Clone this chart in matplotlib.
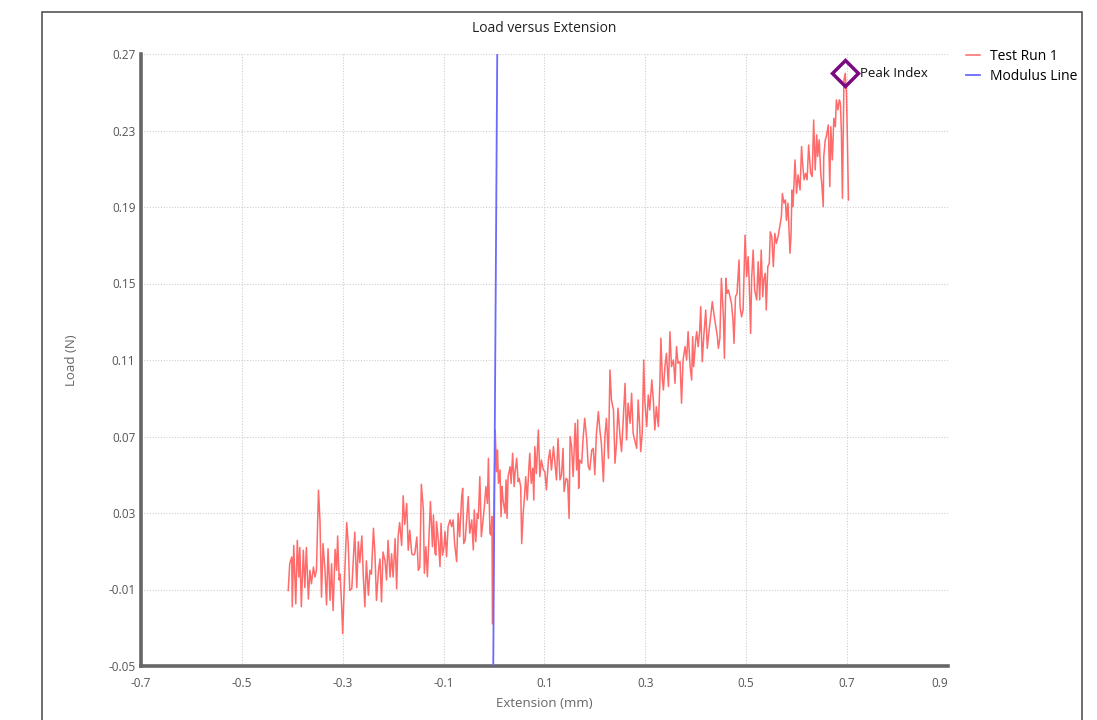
import numpy as np
import matplotlib.pyplot as plt
from matplotlib.patches import Rectangle

plt.rcParams['font.family'] = ['Open Sans', 'DejaVu Sans']

# Test Run 1
extension = [
    -0.408, -0.405, -0.401, -0.400, -0.397, -0.393, -0.390, -0.387, -0.385, -0.382,
    -0.378, -0.375, -0.372, -0.368, -0.365, -0.362, -0.358, -0.355, -0.352, -0.348,
    -0.345, -0.342, -0.339, -0.335, -0.332, -0.329, -0.325, -0.322, -0.319, -0.315,
    -0.312, -0.310, -0.307, -0.305, -0.302, -0.300, -0.297, -0.292, -0.289, -0.286,
    -0.282, -0.279, -0.276, -0.272, -0.269, -0.266, -0.262, -0.259, -0.256, -0.253,
    -0.249, -0.246, -0.243, -0.239, -0.236, -0.233, -0.229, -0.226, -0.223, -0.220,
    -0.216, -0.213, -0.210, -0.206, -0.203, -0.200, -0.196, -0.193, -0.190, -0.187,
    -0.183, -0.180, -0.177, -0.173, -0.170, -0.167, -0.163, -0.160, -0.157, -0.153,
    -0.150, -0.147, -0.144,
    -0.140, -0.138, -0.135, -0.132, -0.129, -0.126, -0.122, -0.120, -0.117, -0.115,
    -0.114, -0.110, -0.107, -0.105, -0.102, -0.099, -0.097, -0.094, -0.091, -0.087,
    -0.084, -0.081, -0.078, -0.074, -0.071, -0.068, -0.064, -0.062, -0.060, -0.057,
    -0.054, -0.051, -0.048, -0.044, -0.041, -0.039, -0.036, -0.033, -0.031, -0.028,
    -0.025, -0.021, -0.019, -0.016, -0.013, -0.011, -0.008, -0.006, -0.004, -0.003,
    0.000, 0.0025, 0.005, 0.007, 0.009, 0.012, 0.014, 0.016, 0.018, 0.022,
    0.024, 0.026, 0.028, 0.032, 0.034, 0.037, 0.040, 0.042, 0.045, 0.048,
    0.050, 0.053, 0.055, 0.058, 0.061, 0.063, 0.066, 0.069, 0.071, 0.074,
    0.077, 0.079, 0.081, 0.084, 0.088, 0.091, 0.094, 0.098, 0.101, 0.104,
    0.108, 0.111, 0.114, 0.118,
    0.124, 0.127, 0.131, 0.134, 0.137, 0.139, 0.143, 0.146, 0.149, 0.151,
    0.154, 0.157, 0.161, 0.164, 0.166, 0.168, 0.170, 0.174, 0.177, 0.180,
    0.184, 0.187, 0.190, 0.194, 0.197, 0.200, 0.203, 0.207, 0.210, 0.213,
    0.217, 0.220, 0.223, 0.227, 0.230, 0.233, 0.237, 0.240, 0.243, 0.246,
    0.250, 0.253, 0.256, 0.260, 0.263, 0.266, 0.270, 0.273, 0.276, 0.279,
    0.283, 0.286, 0.289, 0.291, 0.294, 0.297, 0.299, 0.303, 0.306, 0.309,
    0.313, 0.316, 0.319, 0.322, 0.326, 0.329, 0.331, 0.334, 0.336, 0.339,
    0.342, 0.346, 0.349, 0.352, 0.356, 0.359, 0.362, 0.365, 0.369, 0.372,
    0.375, 0.379, 0.382, 0.385, 0.389,
    0.392, 0.394, 0.396, 0.400, 0.402, 0.405, 0.408, 0.410, 0.413, 0.416,
    0.420, 0.423, 0.426, 0.429, 0.433, 0.436, 0.439, 0.443, 0.445, 0.448,
    0.451, 0.455, 0.457, 0.460, 0.462, 0.465, 0.468, 0.471, 0.474, 0.476,
    0.479, 0.482, 0.486, 0.488, 0.491, 0.494, 0.498, 0.501, 0.504, 0.506,
    0.509, 0.511, 0.514, 0.517, 0.521, 0.524, 0.527, 0.530, 0.533, 0.535,
    0.538, 0.540, 0.543, 0.546, 0.548, 0.551, 0.554, 0.557, 0.560, 0.564,
    0.570, 0.572, 0.575, 0.578, 0.580, 0.583, 0.587, 0.589, 0.591, 0.593,
    0.597, 0.600, 0.603, 0.607, 0.610, 0.612, 0.615, 0.618, 0.621, 0.624,
    0.628, 0.631, 0.634, 0.637, 0.640, 0.642, 0.645, 0.648, 0.650, 0.653,
    0.654, 0.657, 0.659, 0.663, 0.666, 0.668, 0.671, 0.674, 0.677, 0.679,
    0.682, 0.685, 0.687, 0.689, 0.691, 0.694, 0.6965, 0.699, 0.701, 0.703,
]
load = [
    -0.0105, 0.0035, 0.0070, -0.0190, 0.0130, -0.0175, 0.0157, -0.0035, 0.0120, -0.0190,
    0.0105, -0.0090, 0.0120, -0.0150, 0.0000, -0.0070, 0.0017, -0.0035, 0.0000, 0.0419,
    0.0260, -0.0140, 0.0140, 0.0000, -0.0180, 0.0113, -0.0157, 0.0035, -0.0210, 0.0110,
    0.0000, 0.0180, -0.0050, -0.0020, -0.0190, -0.0330, -0.0090, 0.0250, 0.0140, -0.0105,
    -0.0097, 0.0050, 0.0200, -0.0090, 0.0150, 0.0040, 0.0180, -0.0035, -0.0190, 0.0050,
    -0.0130, 0.0000, -0.0020, 0.0220, 0.0087, -0.0157, 0.0000, 0.0060, -0.0165, 0.0096,
    0.0050, -0.0050, 0.0157, -0.0035, 0.0087, -0.0035, 0.0166, -0.0097, 0.0180, 0.0250,
    0.0130, 0.0390, 0.0240, 0.0350, 0.0105, 0.0210, 0.0087, 0.0080, 0.0087, 0.0174,
    0.0000, 0.0017, 0.0450,
    0.0316, -0.0015, 0.0124, -0.0033, 0.0159, 0.0360, 0.0124, 0.0290, 0.0089, 0.0080,
    0.0255, 0.0150, 0.0020, 0.0246, 0.0080, 0.0124, 0.0203, 0.0072, 0.0229, 0.0264,
    0.0229, 0.0264, 0.0140, 0.0046, 0.0298, 0.0176, 0.0386, 0.0429, 0.0140, 0.0159,
    0.0272, 0.0386, 0.0194, 0.0264, 0.0107, 0.0316, 0.0150, 0.0298, 0.0272, 0.0490,
    0.0176, 0.0281, 0.0333, 0.0438, 0.0350, 0.0586, 0.0194, 0.0185, 0.0281, -0.0280,
    0.0316, 0.0734, 0.0516, 0.0630, 0.0455, 0.0525, 0.0281, 0.0438, 0.0368, 0.0298,
    0.0473, 0.0272, 0.0490, 0.0542, 0.0455, 0.0612, 0.0438, 0.0516, 0.0586, 0.0464,
    0.0481, 0.0438, 0.0140, 0.0298, 0.0403, 0.0490, 0.0368, 0.0525, 0.0612, 0.0455,
    0.0534, 0.0368, 0.0647, 0.0507, 0.0734, 0.0490, 0.0577, 0.0525, 0.0516, 0.0421,
    0.0577, 0.0630, 0.0525, 0.0647,
    0.0473, 0.0690, 0.0473, 0.0500, 0.0638, 0.0412, 0.0481, 0.0473, 0.0272, 0.0700,
    0.0647, 0.0490, 0.0769, 0.0525, 0.0787, 0.0429, 0.0577, 0.0560, 0.0700, 0.0795,
    0.0682, 0.0542, 0.0525, 0.0630, 0.0638, 0.0500, 0.0708, 0.0830, 0.0734, 0.0664,
    0.0464, 0.0700, 0.0795, 0.0586, 0.1048, 0.0891, 0.0839, 0.0560, 0.0664, 0.0848,
    0.0700, 0.0621, 0.0769, 0.0978, 0.0682, 0.0874, 0.0769, 0.0926, 0.0717, 0.0682,
    0.0638, 0.0891, 0.0752, 0.0621, 0.0717, 0.1100, 0.0891, 0.0752, 0.0917, 0.0839,
    0.0996, 0.0891, 0.0734, 0.0856, 0.0752, 0.0978, 0.1214, 0.0996, 0.0943, 0.1065,
    0.1135, 0.0961, 0.1248, 0.1065, 0.1100, 0.0978, 0.1170, 0.1083, 0.1092, 0.0874,
    0.1100, 0.1170, 0.1100, 0.1248, 0.1065,
    0.0995, 0.1222, 0.1065, 0.1204, 0.1248, 0.1170, 0.1257, 0.1379, 0.1091, 0.1222,
    0.1361, 0.1161, 0.1239, 0.1309, 0.1405, 0.1344, 0.1292, 0.1222, 0.1161, 0.1213,
    0.1527, 0.1326, 0.1109, 0.1527, 0.1448, 0.1466, 0.1431, 0.1396, 0.1309, 0.1187,
    0.1431, 0.1448, 0.1623, 0.1379, 0.1326, 0.1361, 0.1753, 0.1536, 0.1640, 0.1518,
    0.1239, 0.1527, 0.1675, 0.1466, 0.1414, 0.1614, 0.1414, 0.1675, 0.1431, 0.1518,
    0.1553, 0.1361, 0.1588, 0.1606, 0.1770, 0.1745, 0.1588, 0.1762, 0.1710, 0.1753,
    0.1850, 0.1970, 0.1920, 0.1937, 0.1830, 0.1920, 0.1658, 0.1745, 0.1989, 0.1902,
    0.2146, 0.1972, 0.2068, 0.1989, 0.2216, 0.2129, 0.2042, 0.2076, 0.2042, 0.2224,
    0.2076, 0.2059, 0.2355, 0.2094, 0.2277, 0.2164, 0.2251, 0.2076, 0.2024, 0.1902,
    0.2164, 0.2251, 0.2268, 0.2329, 0.2007, 0.2320, 0.2146, 0.2364, 0.2320, 0.2460,
    0.2408, 0.2460, 0.2443, 0.2286, 0.1946, 0.2564, 0.2599, 0.2495, 0.2233, 0.1937,
]

# Modulus Line end points
modulus_ext = [-0.0014, 0.0065]
modulus_load = [-0.05, 0.27]

x_ticks = [-0.7, -0.5, -0.3, -0.1, 0.1, 0.3, 0.5, 0.7, 0.9]
y_ticks = [-0.05, -0.01, 0.03, 0.07, 0.11, 0.15, 0.19, 0.23, 0.27]

fig = plt.figure(figsize=(10.97, 7.2), dpi=100)
ax = fig.add_axes([0.1285, 0.075, 0.7355, 0.85])

ax.plot(extension, load, color='#ff5a5a', lw=1.1, alpha=0.9, label='Test Run 1', zorder=3)
ax.plot(modulus_ext, modulus_load, color='#6a6aff', lw=1.3, label='Modulus Line', zorder=4)

peak = int(np.argmax(load))
ax.plot(extension[peak], load[peak], marker='D', ms=13, mfc='none', mec='#7a0a80',
        mew=2.5, ls='none', zorder=5)
ax.annotate('Peak Index', (extension[peak], load[peak]), xytext=(11, 0),
            textcoords='offset points', va='center', fontsize=9.5, color='#111111')

ax.set_xlim(-0.7, 0.9)
ax.set_ylim(-0.05, 0.27)
ax.set_xticks(x_ticks)
ax.set_yticks(y_ticks)
ax.set_xticklabels([f'{v:g}' for v in x_ticks])
ax.set_yticklabels([f'{v:g}' for v in y_ticks])
ax.tick_params(length=0, labelsize=8.5, colors='#555555')
ax.tick_params(axis='x', pad=8)
ax.tick_params(axis='y', pad=4)
ax.get_xticklabels()[-1].set_horizontalalignment('right')
ax.grid(True, ls=(0, (1, 1.5)), color='#cfcfcf', lw=0.8)

for s in ['top', 'right']:
    ax.spines[s].set_visible(False)
for s in ['left', 'bottom']:
    ax.spines[s].set_linewidth(2.6)
    ax.spines[s].set_color('#666666')

ax.set_title('Load versus Extension', fontsize=10, color='#222222', pad=16)
ax.set_xlabel('Extension (mm)', fontsize=9.5, color='#666666', labelpad=5)
ax.set_ylabel('Load (N)', fontsize=9.5, color='#666666', labelpad=22)

ax.legend(loc='upper left', bbox_to_anchor=(1.007, 1.029), frameon=False, fontsize=10,
          handlelength=1.0, handletextpad=0.7, labelspacing=0.35)

# outer frame of the chart control
fig.add_artist(Rectangle((42 / 1097, -0.05), 1040 / 1097, 1.05 - 12 / 720,
                         transform=fig.transFigure, fill=False, ec='#555555', lw=1.2))

fig.savefig('out.png', dpi=100)
